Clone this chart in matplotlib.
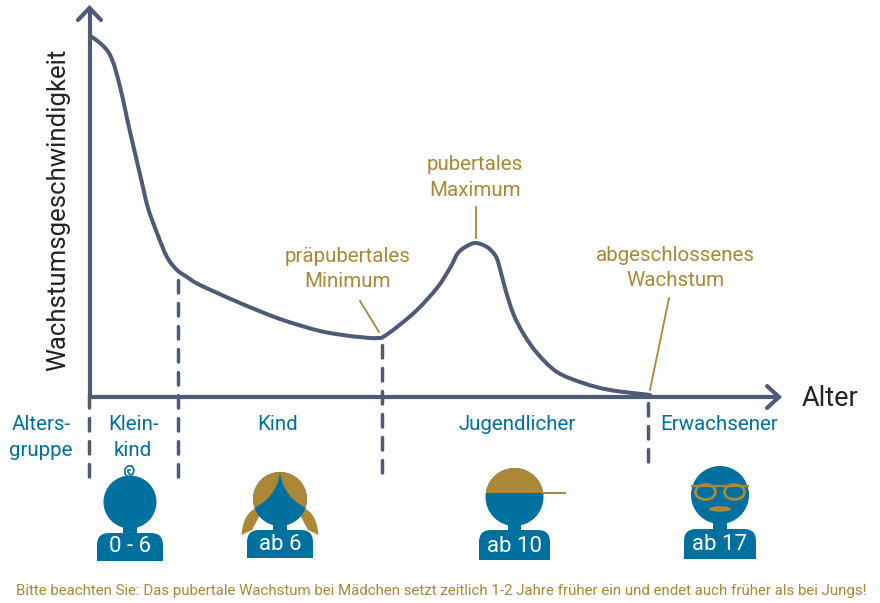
"""
plot.py
Wachstumsgeschwindigkeit ueber das Alter, with the age groups and their little figures below the axis.
"""

#Imports
import matplotlib.pyplot as plt
from matplotlib.patches import Circle, Ellipse, PathPatch, Rectangle
from matplotlib.path import Path

#Data, in picture pixels
curve_x = [90, 92, 100, 106, 110, 115, 122, 128, 135, 142, 148, 157, 167, 177, 187, 200, 240, 280, 320, 350, 360, 370, 378, 383, 397, 417, 437, 450, 458, 467, 476, 487, 495, 499, 505, 513, 523, 537, 557, 583, 610, 650]
curve_y = [36, 37, 43, 49, 55, 68, 95, 123, 153, 183, 208, 233, 257, 270, 277, 285, 303, 319, 331, 336, 337, 338, 338, 337, 327, 310, 288, 268, 253, 246, 243, 247, 255, 265, 288, 313, 333, 353, 372, 383, 390, 395]

divider_x = [89, 178, 382, 648]
divider_top = [395, 280, 345, 403]
divider_bottom = [478, 479, 478, 468]

group_labels = ["Klein-\nkind", "Kind", "Jugendlicher", "Erwachsener"]
group_label_x = [133, 278, 517, 719]
group_label_y = [437.5, 424, 424, 424]

badge_labels = ["0 - 6", "ab 6", "ab 10", "ab 17"]
person_x = [130, 280, 514.5, 720]
head_y = [502, 499, 497, 495]
head_r = [26.5, 27, 29, 29]
body_halfwidth = [33, 33, 35.5, 36]
body_top = [533, 530, 530, 529]
body_bottom = [561, 558, 560, 559]

note_text = "Bitte beachten Sie: Das pubertale Wachstum bei Mädchen setzt zeitlich 1-2 Jahre früher ein und endet auch früher als bei Jungs!"

#Colours
slate = "#4f5b76"
blue = "#00709f"
gold = "#ab8736"
dark = "#222222"

plt.rcParams['font.family'] = ['Roboto', 'DejaVu Sans']


def smooth_path(xs, ys):

    #Bezier segments through the read points, so matplotlib draws a round curve
    points = list(zip(xs, ys))
    vertices = [points[0]]
    codes = [Path.MOVETO]
    for i in range(len(points) - 1):
        p0 = points[max(i - 1, 0)]
        p1 = points[i]
        p2 = points[i + 1]
        p3 = points[min(i + 2, len(points) - 1)]
        vertices.append((p1[0] + (p2[0] - p0[0]) / 6, p1[1] + (p2[1] - p0[1]) / 6))
        vertices.append((p2[0] - (p3[0] - p1[0]) / 6, p2[1] - (p3[1] - p1[1]) / 6))
        vertices.append(p2)
        codes += [Path.CURVE4, Path.CURVE4, Path.CURVE4]
    return Path(vertices, codes)


def draw_axes(ax):

    ax.plot([90, 90], [398, 8], color=slate, lw=3, solid_capstyle="butt")
    ax.plot([78, 89.5, 101], [20, 8, 20], color=slate, lw=3, solid_capstyle="round", solid_joinstyle="miter")
    ax.plot([88, 778], [397, 397], color=slate, lw=3, solid_capstyle="butt")
    ax.plot([767, 779, 767], [386, 397, 408], color=slate, lw=3, solid_capstyle="round", solid_joinstyle="miter")

    ax.add_patch(PathPatch(smooth_path(curve_x, curve_y), fill=False, ec=slate, lw=2.9, capstyle="round", joinstyle="round"))

    #Dashed separators of the age groups
    for x, top, bottom in zip(divider_x, divider_top, divider_bottom):
        ax.plot([x, x], [top, bottom], color=slate, lw=2.5, linestyle=(0, (3.6, 3.03)), dash_capstyle="round")


def draw_texts(ax):

    ax.text(58, 210, "Wachstumsgeschwindigkeit", color=dark, fontsize=18.5, rotation=90, ha="center", va="center")
    ax.text(830, 399, "Alter", color=dark, fontsize=19.5, ha="center", va="center")

    ax.text(41, 437.5, "Alters-\ngruppe", color=blue, fontsize=14.8, ha="center", va="center", linespacing=1.4)
    for label, x, y in zip(group_labels, group_label_x, group_label_y):
        ax.text(x, y, label, color=blue, fontsize=14.8, ha="center", va="center", linespacing=1.4)

    ax.text(475, 177.5, "pubertales\nMaximum", color=gold, fontsize=14.8, ha="center", va="center", linespacing=1.4)
    ax.text(348, 269, "präpubertales\nMinimum", color=gold, fontsize=14.8, ha="center", va="center", linespacing=1.4)
    ax.text(675, 268, "abgeschlossenes\nWachstum", color=gold, fontsize=14.8, ha="center", va="center", linespacing=1.4)

    #Leader lines to the curve
    ax.plot([476, 476], [207, 238], color=gold, lw=1.3)
    ax.plot([360, 379], [301, 332], color=gold, lw=1.3)
    ax.plot([669, 650], [298, 390], color=gold, lw=1.3)

    ax.text(441, 591, note_text, color=gold, fontsize=10.8, ha="center", va="center")


def draw_person(ax, i):

    #Head, neck and shoulders with the age on the chest
    x = person_x[i]
    half = body_halfwidth[i]
    top = body_top[i]
    bottom = body_bottom[i]
    head = Circle((x, head_y[i]), head_r[i], color=blue, lw=0, zorder=3)
    ax.add_patch(head)
    ax.add_patch(Rectangle((x - 6.7, head_y[i] + head_r[i] - 5), 13.4, 12, color=blue, lw=0, zorder=3))
    body = Path([(x - half, bottom), (x - half, top + 12), (x - half, top), (x - half + 12, top), (x + half - 12, top), (x + half, top), (x + half, top + 12), (x + half, bottom), (x - half, bottom)],
                [Path.MOVETO, Path.LINETO, Path.CURVE3, Path.CURVE3, Path.LINETO, Path.CURVE3, Path.CURVE3, Path.LINETO, Path.CLOSEPOLY])
    ax.add_patch(PathPatch(body, color=blue, lw=0, zorder=3))
    ax.text(x, bottom - 14, badge_labels[i], color="white", fontsize=16, ha="center", va="center", zorder=6)
    return head


def draw_hair_patch(ax, head, points, codes):

    #Gold shapes are cut to the outline of the head
    hair = PathPatch(Path(points, codes), color=gold, lw=0, zorder=4)
    ax.add_patch(hair)
    hair.set_clip_path(head)


def draw_people(ax):

    #Baby with a curl
    draw_person(ax, 0)
    curl_x = [127, 125, 125, 128, 132, 134, 133, 130, 128, 128, 130]
    curl_y = [476, 474, 469, 466, 466, 470, 474, 475, 472, 470, 470]
    ax.plot(curl_x, curl_y, color=blue, lw=1.2, zorder=3)

    #Girl with pigtails
    x = person_x[1]
    head = draw_person(ax, 1)
    for side in [-1, 1]:
        draw_hair_patch(ax, head,
                        [(x, 472), (x + side * 3, 497), (x + side * 26, 508), (x + side * 40, 508), (x + side * 40, 460), (x, 460), (x, 472)],
                        [Path.MOVETO, Path.CURVE3, Path.CURVE3, Path.LINETO, Path.LINETO, Path.LINETO, Path.CLOSEPOLY])
        tail = Path([(x + side * 24, 508), (x + side * 37, 514), (x + side * 38.5, 535), (x + side * 28, 530), (x + side * 20, 515), (x + side * 24, 508)],
                    [Path.MOVETO, Path.CURVE3, Path.CURVE3, Path.LINETO, Path.LINETO, Path.CLOSEPOLY])
        ax.add_patch(PathPatch(tail, color=gold, lw=0, zorder=2))

    #Boy with a cap
    x = person_x[2]
    head = draw_person(ax, 2)
    draw_hair_patch(ax, head, [(x - 30, 460), (x + 30, 460), (x + 30, 493), (x - 30, 493), (x - 30, 460)],
                    [Path.MOVETO, Path.LINETO, Path.LINETO, Path.LINETO, Path.CLOSEPOLY])
    ax.plot([x + 28, x + 50], [493, 493], color=gold, lw=1.5, zorder=4)

    #Man with glasses and moustache
    x = person_x[3]
    draw_person(ax, 3)
    for side in [-1, 1]:
        ax.add_patch(Ellipse((x + side * 14.5, 492), 20, 15, fill=False, ec=gold, lw=2, zorder=5))
    ax.plot([x - 28, x + 28], [485.5, 485.5], color=gold, lw=1.6, zorder=5)
    ax.add_patch(Ellipse((x, 509), 22, 5.5, color=gold, lw=0, zorder=5))


def main():

    fig = plt.figure(figsize=(8.8, 6.03), dpi=100)
    ax = fig.add_axes([0, 0, 1, 1])
    ax.set_xlim(0, 880)
    ax.set_ylim(603, 0)
    ax.axis("off")

    draw_axes(ax)
    draw_texts(ax)
    draw_people(ax)

    plt.savefig("out.png", dpi=100)


main()
